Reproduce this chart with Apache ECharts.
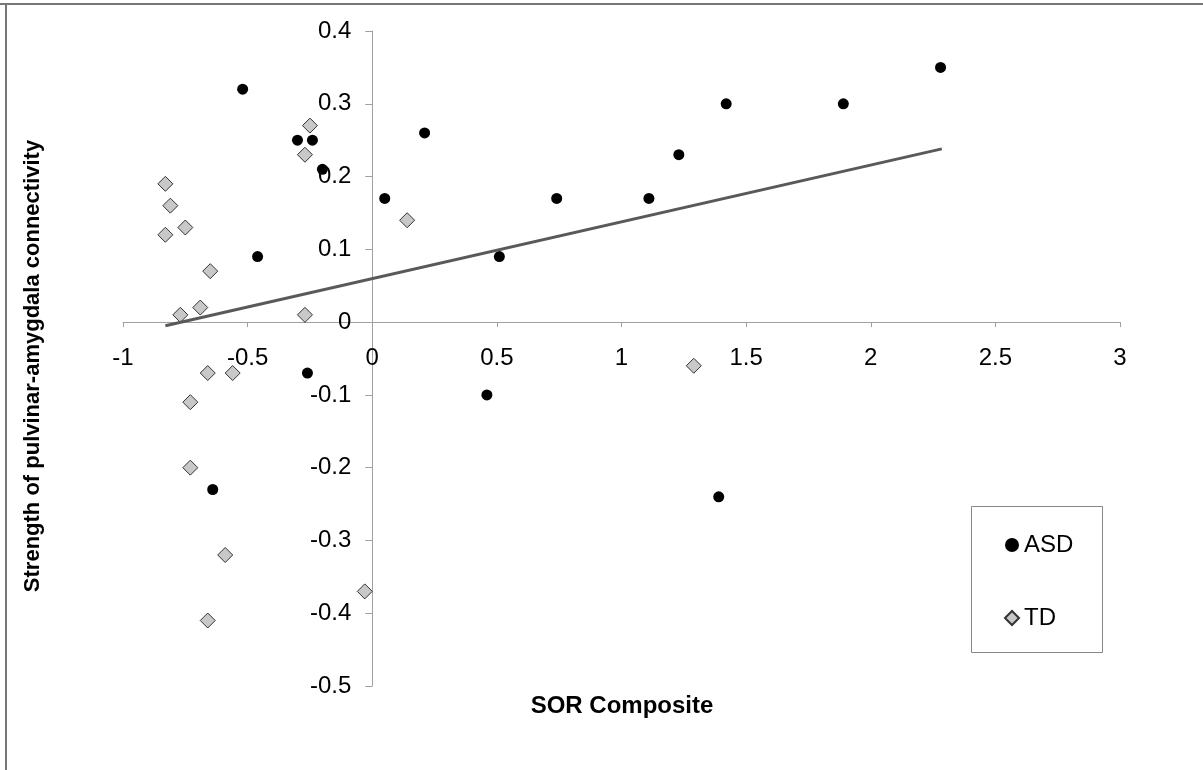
<!DOCTYPE html>
<html>
<head>
<meta charset="utf-8">
<title>SOR Composite vs pulvinar-amygdala connectivity</title>
<script src="https://cdn.jsdelivr.net/npm/echarts@6/dist/echarts.min.js"></script>
<style>
  html, body { margin: 0; padding: 0; background: #fff; }
  #chart { width: 1203px; height: 770px; }
</style>
</head>
<body>
<div id="chart"></div>
<script>
// ASD group: [SOR composite, connectivity]
var asdPoints = [
  [-0.52, 0.32], [-0.30, 0.25], [-0.24, 0.25], [-0.20, 0.21],
  [-0.46, 0.09], [-0.26, -0.07], [-0.64, -0.23], [0.05, 0.17],
  [0.21, 0.26], [0.51, 0.09], [0.46, -0.10], [0.74, 0.17],
  [1.11, 0.17], [1.23, 0.23], [1.42, 0.30], [1.39, -0.24],
  [1.89, 0.30], [2.28, 0.35]
];
// TD group
var tdPoints = [
  [-0.25, 0.27], [-0.27, 0.23], [-0.83, 0.19], [-0.81, 0.16],
  [-0.83, 0.12], [-0.75, 0.13], [-0.65, 0.07], [-0.69, 0.02],
  [-0.77, 0.01], [-0.27, 0.01], [0.14, 0.14], [-0.66, -0.07],
  [-0.56, -0.07], [-0.73, -0.11], [-0.73, -0.20], [-0.59, -0.32],
  [-0.66, -0.41], [-0.03, -0.37], [1.29, -0.06]
];
// linear trend line (ASD), end points
var trendPoints = [[-0.83, -0.005], [2.285, 0.238]];

var seriesNames = ['ASD', 'TD'];
var xTitle = 'SOR Composite';
var yTitle = 'Strength of pulvinar-amygdala connectivity';

var FONT = '"Liberation Sans", Arial, sans-serif';
var axisGrey = '#a0a0a0';

// plot area
var gridLeft = 123, gridTop = 31, gridW = 997, gridH = 655;
var xMin = -1, xMax = 3, yMin = -0.5, yMax = 0.4;
// axes cross at zero: shift them from the grid edges
var xAxisOffset = -gridH * (0 - yMin) / (yMax - yMin);
var yAxisOffset = -gridW * (0 - xMin) / (xMax - xMin);

var chart = echarts.init(document.getElementById('chart'), null, { renderer: 'canvas' });

chart.setOption({
  animation: false,
  backgroundColor: '#fff',
  textStyle: { fontFamily: FONT },
  grid: { left: gridLeft, top: gridTop, width: gridW, height: gridH },
  xAxis: {
    type: 'value',
    position: 'bottom',
    offset: xAxisOffset,
    min: xMin, max: xMax, interval: 0.5,
    axisLine: { onZero: false, lineStyle: { color: axisGrey, width: 1 } },
    axisTick: { show: true, length: 5, lineStyle: { color: axisGrey } },
    axisLabel: { fontSize: 24, color: '#000', margin: 24, fontFamily: FONT,
      showMinLabel: true, showMaxLabel: true },
    splitLine: { show: false }
  },
  yAxis: {
    type: 'value',
    position: 'left',
    offset: yAxisOffset,
    min: yMin, max: yMax, interval: 0.1,
    axisLine: { show: true, onZero: false, lineStyle: { color: axisGrey, width: 1 } },
    axisTick: { show: true, length: 7, lineStyle: { color: axisGrey } },
    axisLabel: { fontSize: 24, color: '#000', margin: 21, fontFamily: FONT,
      showMinLabel: true, showMaxLabel: true,
      formatter: function (v) { return +v.toFixed(1) + ''; } },
    splitLine: { show: false }
  },
  legend: {
    orient: 'vertical',
    left: 1004, top: 533,
    padding: 0,
    itemGap: 49,
    itemWidth: 14, itemHeight: 14,
    textStyle: { fontSize: 24, color: '#000', fontFamily: FONT },
    data: [
      { name: seriesNames[0], icon: 'circle' },
      { name: seriesNames[1], icon: 'diamond' }
    ]
  },
  graphic: [
    // frame (top and left edges)
    { type: 'line', shape: { x1: 0, y1: 4, x2: 1203, y2: 4 }, style: { stroke: '#777', lineWidth: 2 } },
    { type: 'line', shape: { x1: 6, y1: 3, x2: 6, y2: 770 }, style: { stroke: '#777', lineWidth: 2 } },
    // legend box
    { type: 'rect', shape: { x: 971.5, y: 506.5, width: 131, height: 146 },
      style: { fill: 'none', stroke: '#888', lineWidth: 1 }, z: 1 },
    // axis titles
    { type: 'text', x: 622, y: 706,
      style: { text: xTitle, font: 'bold 24px ' + FONT, fill: '#000',
        textAlign: 'center', textVerticalAlign: 'middle' } },
    { type: 'text', x: 33, y: 366, rotation: Math.PI / 2,
      style: { text: yTitle, font: 'bold 22px ' + FONT, fill: '#000',
        textAlign: 'center', textVerticalAlign: 'middle' } }
  ],
  series: [
    {
      name: seriesNames[0],
      type: 'scatter',
      symbol: 'circle',
      symbolSize: 11,
      itemStyle: { color: '#000', opacity: 1 },
      data: asdPoints,
      z: 3
    },
    {
      name: seriesNames[1],
      type: 'scatter',
      symbol: 'diamond',
      symbolSize: 15,
      itemStyle: { color: '#c8c8c8', borderColor: '#333', borderWidth: 1, opacity: 1 },
      data: tdPoints,
      z: 3
    },
    {
      name: 'trend',
      type: 'line',
      data: trendPoints,
      symbol: 'none',
      silent: true,
      lineStyle: { color: '#595959', width: 3 },
      z: 4
    }
  ]
});
</script>
</body>
</html>
